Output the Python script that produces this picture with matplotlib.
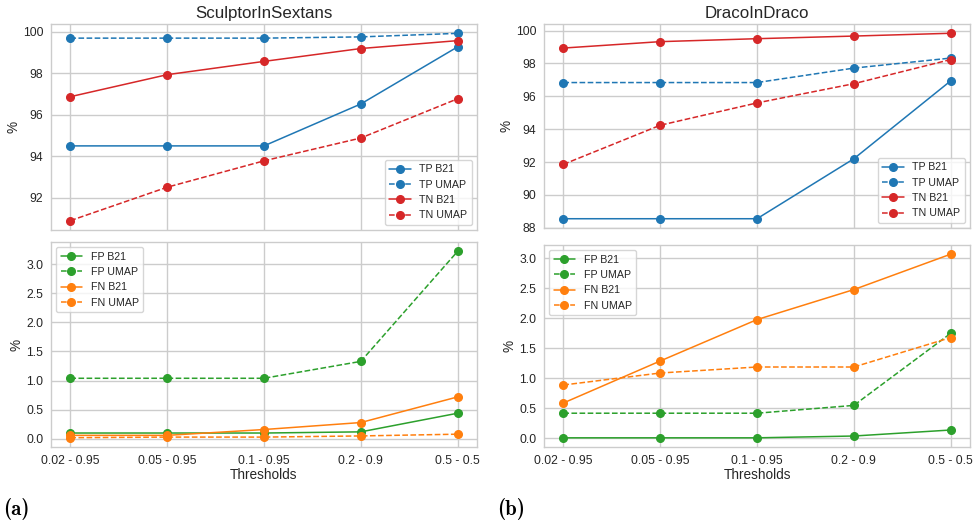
import matplotlib
matplotlib.use("Agg")
import matplotlib.pyplot as plt
import seaborn as sns

sns.set_theme(style="whitegrid")
plt.rcParams['font.family'] = ['Liberation Sans', 'DejaVu Sans']

thresholds = ["0.02 - 0.95", "0.05 - 0.95", "0.1 - 0.95", "0.2 - 0.9", "0.5 - 0.5"]

# SculptorInSextans
scl_tp_b21 = [94.5, 94.5, 94.5, 96.52, 99.27]
scl_tp_umap = [99.69, 99.69, 99.69, 99.75, 99.92]
scl_tn_b21 = [96.87, 97.93, 98.57, 99.19, 99.57]
scl_tn_umap = [90.9, 92.51, 93.78, 94.88, 96.77]
scl_fp_b21 = [0.1, 0.1, 0.1, 0.12, 0.44]
scl_fp_umap = [1.04, 1.04, 1.04, 1.33, 3.22]
scl_fn_b21 = [0.06, 0.06, 0.16, 0.28, 0.72]
scl_fn_umap = [0.02, 0.03, 0.03, 0.05, 0.08]

# DracoInDraco
dra_tp_b21 = [88.55, 88.55, 88.55, 92.2, 96.94]
dra_tp_umap = [96.84, 96.84, 96.84, 97.72, 98.33]
dra_tn_b21 = [98.94, 99.33, 99.51, 99.67, 99.84]
dra_tn_umap = [91.86, 94.24, 95.6, 96.77, 98.24]
dra_fp_b21 = [0.01, 0.01, 0.01, 0.04, 0.14]
dra_fp_umap = [0.42, 0.42, 0.42, 0.55, 1.75]
dra_fn_b21 = [0.59, 1.29, 1.98, 2.48, 3.07]
dra_fn_umap = [0.89, 1.09, 1.19, 1.19, 1.68]

BLUE, RED, GREEN, ORANGE = "#1f77b4", "#d62728", "#2ca02c", "#ff7f0e"
TICK_FS, LEG_FS, LAB_FS, TITLE_FS = 8.7, 7.7, 9.8, 12.2
LW, MS = 1.1, 5.5

fig = plt.figure(figsize=(9.76, 5.25), dpi=100)

def panel(top_rect, bot_rect, title, tp_b, tp_u, tn_b, tn_u, fp_b, fp_u, fn_b, fn_u, yticks_top):
    ax1 = fig.add_axes(top_rect)
    ax2 = fig.add_axes(bot_rect, sharex=ax1)
    x = list(range(len(thresholds)))
    ax1.plot(x, tp_b, '-o', color=BLUE, lw=LW, ms=MS, label='TP B21')
    ax1.plot(x, tp_u, '--o', color=BLUE, lw=LW, ms=MS, label='TP UMAP')
    ax1.plot(x, tn_b, '-o', color=RED, lw=LW, ms=MS, label='TN B21')
    ax1.plot(x, tn_u, '--o', color=RED, lw=LW, ms=MS, label='TN UMAP')
    ax2.plot(x, fp_b, '-o', color=GREEN, lw=LW, ms=MS, label='FP B21')
    ax2.plot(x, fp_u, '--o', color=GREEN, lw=LW, ms=MS, label='FP UMAP')
    ax2.plot(x, fn_b, '-o', color=ORANGE, lw=LW, ms=MS, label='FN B21')
    ax2.plot(x, fn_u, '--o', color=ORANGE, lw=LW, ms=MS, label='FN UMAP')
    ax1.set_title(title, fontsize=TITLE_FS, pad=4)
    ax1.set_yticks(yticks_top)
    ax2.set_yticks([0.0, 0.5, 1.0, 1.5, 2.0, 2.5, 3.0])
    ax2.set_xticks(x)
    ax2.set_xticklabels(thresholds)
    plt.setp(ax1.get_xticklabels(), visible=False)
    for ax in (ax1, ax2):
        ax.tick_params(labelsize=TICK_FS, length=0, pad=5.5)
        ax.set_ylabel('%', fontsize=LAB_FS, labelpad=2)
        for s in ax.spines.values():
            s.set_linewidth(1.0)
    ax2.set_xlabel('Thresholds', fontsize=LAB_FS, labelpad=1)
    ax1.legend(loc='lower right', fontsize=LEG_FS, framealpha=0.8)
    ax2.legend(loc='upper left', fontsize=LEG_FS, framealpha=0.8)
    return ax1, ax2

panel([51/976, 1-230/525, 426/976, 206/525], [51/976, 1-447/525, 426/976, 205/525],
      'SculptorInSextans', scl_tp_b21, scl_tp_umap, scl_tn_b21, scl_tn_umap,
      scl_fp_b21, scl_fp_umap, scl_fn_b21, scl_fn_umap, [92, 94, 96, 98, 100])
panel([544/976, 1-228/525, 426/976, 204/525], [544/976, 1-447/525, 426/976, 202/525],
      'DracoInDraco', dra_tp_b21, dra_tp_umap, dra_tn_b21, dra_tn_umap,
      dra_fp_b21, dra_fp_umap, dra_fn_b21, dra_fn_umap, [88, 90, 92, 94, 96, 98, 100])

fig.text(3/976, 1-509/525, '(a)', family=['cmb10', 'DejaVu Serif'], fontsize=15,
         va='center', ha='left', color='black')
fig.text(497/976, 1-509/525, '(b)', family=['cmb10', 'DejaVu Serif'], fontsize=15,
         va='center', ha='left', color='black')

fig.savefig('out.png', dpi=100)
